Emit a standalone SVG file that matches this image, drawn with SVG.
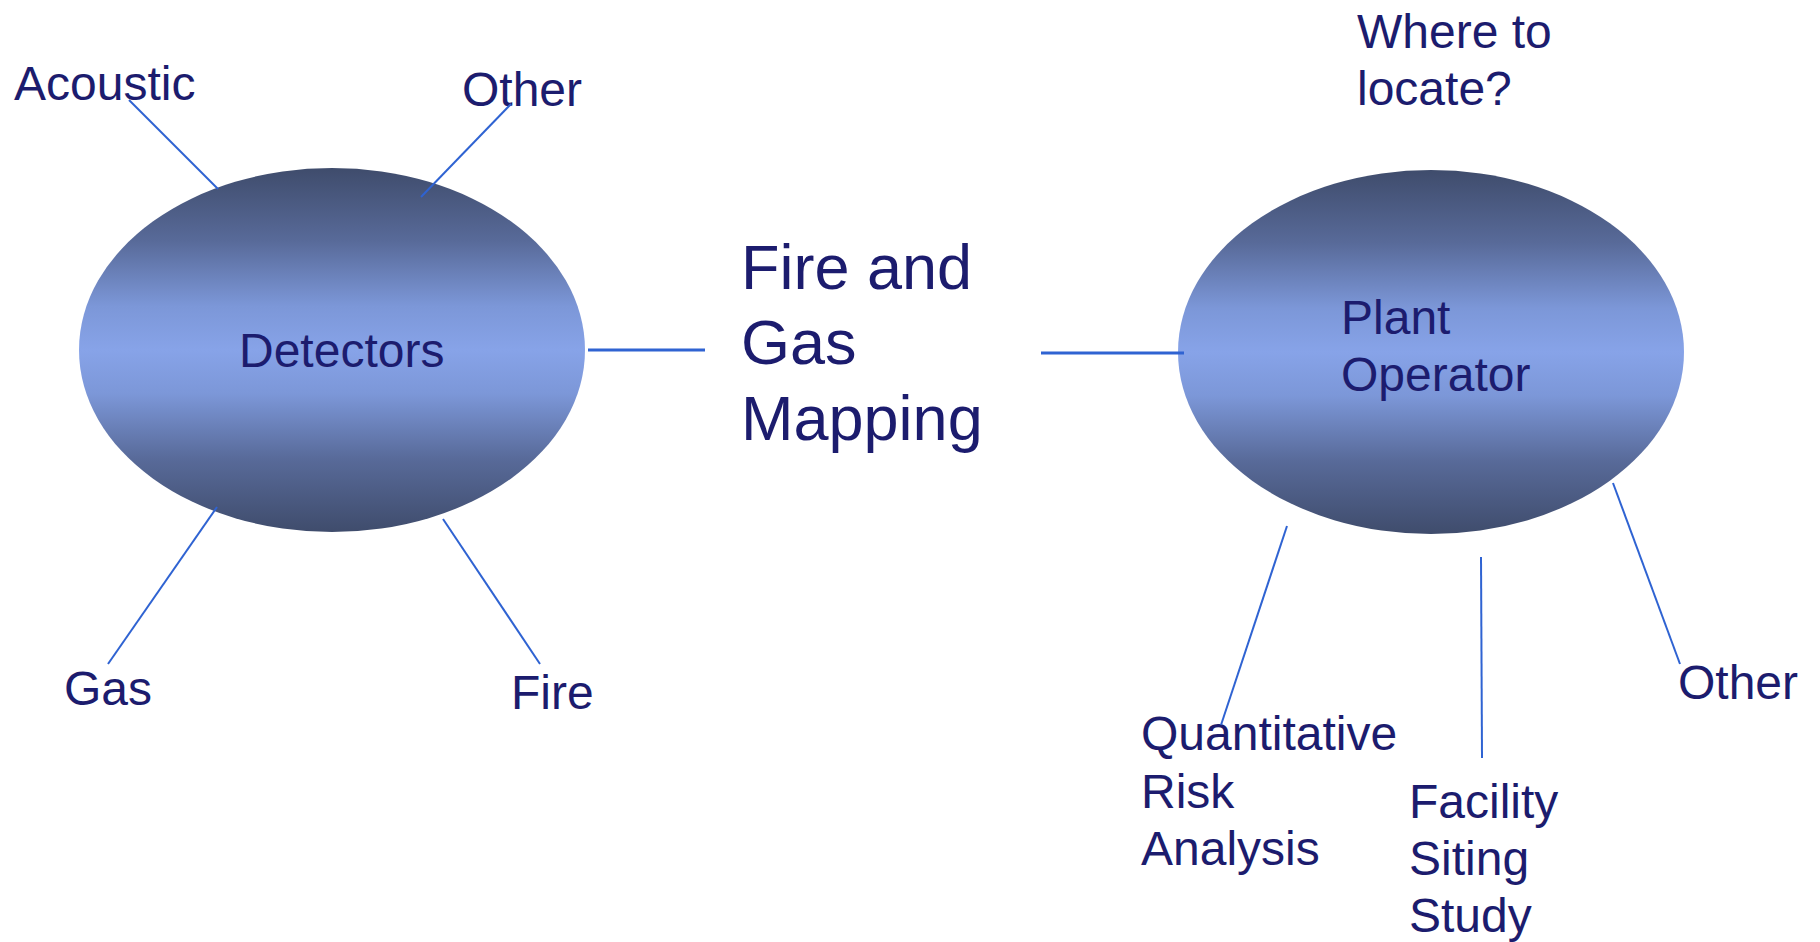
<svg xmlns="http://www.w3.org/2000/svg" width="1820" height="942" viewBox="0 0 1820 942">
<style>
text{font-family:"Liberation Sans",Arial,sans-serif;fill:#1c1c6e;font-size:48px}
.big{font-size:63px}
.c{stroke:#2f63d2;stroke-width:2;fill:none}
.h{stroke-width:3}
</style>
<defs>
<linearGradient id="g" x1="0" y1="0" x2="0" y2="1">
<stop offset="0" stop-color="#3f4c6c"/>
<stop offset="0.2" stop-color="#586a99"/>
<stop offset="0.38" stop-color="#7c97d8"/>
<stop offset="0.5" stop-color="#87a3e8"/>
<stop offset="0.62" stop-color="#7c97d8"/>
<stop offset="0.8" stop-color="#586a99"/>
<stop offset="1" stop-color="#3f4c6c"/>
</linearGradient>
</defs>
<rect width="1820" height="942" fill="#fff"/>
<g id="detectors">
<ellipse cx="332" cy="350" rx="253" ry="182" fill="url(#g)"/>
<text x="239" y="367">Detectors</text>
</g>
<g id="plant-operator">
<ellipse cx="1431" cy="352" rx="253" ry="182" fill="url(#g)"/>
<text x="1341" y="334">Plant</text>
<text x="1341" y="391">Operator</text>
</g>
<g id="fgm"><text class="big" x="741"><tspan x="741" y="289">Fire and</tspan><tspan x="741" y="364">Gas</tspan><tspan x="741" y="440">Mapping</tspan></text></g>
<g id="acoustic"><text x="14" y="100">Acoustic</text></g>
<g id="other-det"><text x="462" y="106">Other</text></g>
<g id="gas"><text x="64" y="705">Gas</text></g>
<g id="fire"><text x="511" y="709">Fire</text></g>
<g id="where"><text x="1357" y="48">Where to</text><text x="1357" y="105">locate?</text></g>
<g id="qra"><text x="1141" y="750">Quantitative</text><text x="1141" y="808">Risk</text><text x="1141" y="865">Analysis</text></g>
<g id="fss"><text x="1409" y="818">Facility</text><text x="1409" y="875">Siting</text><text x="1409" y="932">Study</text></g>
<g id="other-op"><text x="1678" y="699">Other</text></g>
<g id="connectors">
<line class="c" x1="129" y1="100" x2="218" y2="189"/>
<line class="c" x1="511" y1="104" x2="421" y2="197"/>
<line class="c" x1="108" y1="664" x2="217" y2="507"/>
<line class="c" x1="540" y1="664" x2="443" y2="519"/>
<line class="c h" x1="588" y1="350" x2="705" y2="350"/>
<line class="c h" x1="1041" y1="353" x2="1184" y2="353"/>
<line class="c" x1="1287" y1="526" x2="1221" y2="725"/>
<line class="c" x1="1481" y1="557" x2="1482" y2="758"/>
<line class="c" x1="1613" y1="483" x2="1680" y2="664"/>
</g>
</svg>
